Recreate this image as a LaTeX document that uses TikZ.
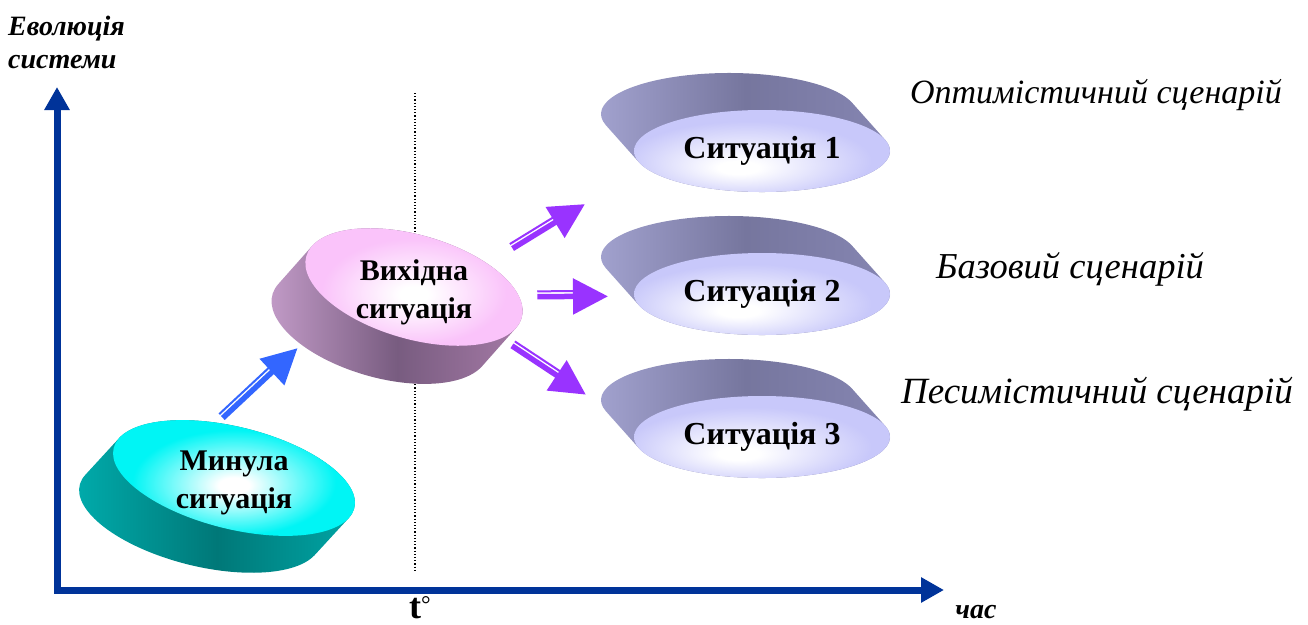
\documentclass[tikz,border=0pt]{standalone}
\usepackage{fontspec}
\setmainfont{Liberation Serif}
\usetikzlibrary{arrows.meta,shapes.geometric,calc}

\definecolor{axisblue}{RGB}{0,51,153}
\definecolor{arrowblue}{RGB}{51,102,255}
\definecolor{arrowpurple}{RGB}{153,51,255}
% minula
\definecolor{minface}{RGB}{0,245,245}
\definecolor{minsideA}{RGB}{0,175,175}
\definecolor{minsideB}{RGB}{0,120,120}
\definecolor{minsideC}{RGB}{0,170,170}
% vyhidna
\definecolor{vyhface}{RGB}{250,195,250}
\definecolor{vyhsideA}{RGB}{200,160,205}
\definecolor{vyhsideB}{RGB}{120,92,128}
\definecolor{vyhsideC}{RGB}{170,125,170}
% situations
\definecolor{sitface}{RGB}{200,200,250}
\definecolor{sitsideA}{RGB}{165,165,210}
\definecolor{sitsideB}{RGB}{118,118,158}
\definecolor{sitsideC}{RGB}{135,135,180}

% white spot on the top faces
\pgfdeclareradialshading[glowcol]{faceglow}{\pgfpoint{0bp}{-3bp}}{color(0bp)=(white);color(3bp)=(white);color(20bp)=(glowcol);color(50bp)=(glowcol)}
\pgfdeclareradialshading[glowcol]{lowglow}{\pgfpoint{-5bp}{-11bp}}{color(0bp)=(white);color(4bp)=(white);color(24bp)=(glowcol);color(50bp)=(glowcol)}

\tikzset{
  % middle colour last, or it is reset
  minside/.style={left color=minsideA, right color=minsideC, middle color=minsideB},
  vyhside/.style={left color=vyhsideA, right color=vyhsideC, middle color=vyhsideB},
  sitside/.style={left color=sitsideA, right color=sitsideC, middle color=sitsideB},
  mintop/.style={shading=faceglow},
  vyhtop/.style={shading=faceglow},
  sittop/.style={shading=lowglow},
  disktext/.style={ellipse, inner sep=0pt},
  mintext/.style={align=center, yshift=-5pt, font=\bfseries\fontsize{30}{38}\selectfont},
  vyhtext/.style={align=center, yshift=-5pt, font=\bfseries\fontsize{30}{38}\selectfont},
  sittext/.style={align=center, font=\bfseries\fontsize{32}{38}\selectfont},
  axis line/.style={draw=axisblue, line width=7pt, line join=miter,
    {Triangle[length=23pt,width=24pt]}-{Triangle[length=23pt,width=24pt]}},
  axis label/.style={inner sep=0pt, font=\bfseries\itshape\fontsize{28}{33}\selectfont},
  scenario/.style={anchor=base, inner sep=0pt},
  fat arrow/.style={draw=#1, line width=5.5pt, -{Triangle[length=35pt,width=35pt]}},
  thin shaft/.style={draw=#1, line width=2pt}
}

% disc: name, centre, tilt, radii, depth offset, colour set, label
\newcommand{\drawdisk}[9]{%
  \pgfmathsetmacro\tmid{atan2((#7)/(#5),(#6)/(#4))}%
  \pgfmathsetmacro\tone{\tmid-90}%
  \pgfmathsetmacro\ttwo{\tmid+90}%
  \colorlet{glowcol}{#8face}%
  \begin{scope}[shift={(#2)}, rotate=#3]
    \shade[#8side] (\tone:#4 and #5) -- ++(#6,#7)
      arc[start angle=\tone, end angle=\ttwo, x radius=#4, y radius=#5]
      -- (\ttwo:#4 and #5)
      arc[start angle=\ttwo, end angle=\tone+360, x radius=#4, y radius=#5] -- cycle;
    \shade[#8top] (0,0) ellipse[x radius=#4, y radius=#5];
  \end{scope}
  \node[disktext, minimum width=2*#4, minimum height=2*#5] (#1) at (#2) {};
  \node[#8text] (#1 text) at (#1.center) {#9};
}

% arrow with a thin line along its shaft: colour, from, to, gaps at both ends
\newcommand{\fatarrow}[5]{%
  \draw[fat arrow=#1, shorten <=#4, shorten >=#5] (#2) -- (#3);
  \draw[thin shaft=#1, shorten <=#4, shorten >=#5+30pt]
    ($(#2)!5.3pt!90:(#3)$) -- ($(#3)!5.3pt!-90:(#2)$);
}

\begin{document}
\begin{tikzpicture}[x=1pt,y=-1pt]
\useasboundingbox (0,0) rectangle (1308,624);

% moment t0
\coordinate (ttop) at (415,93);
\coordinate (tbot) at (415,572);
\draw[dotted, line width=1.2pt] (ttop) -- (tbot);

% Discs
\drawdisk{min}{234,478}{-14}{124}{51}{-24}{44}{min}{Минула\\ситуація}
\drawdisk{vyh}{414,287}{-16}{112}{52}{-22}{46}{vyh}{Вихідна\\ситуація}
\drawdisk{s1}{762,151}{0}{128}{41}{-33}{-37}{sit}{Ситуація 1}
\drawdisk{s2}{762,294}{0}{128}{41}{-33}{-37}{sit}{Ситуація 2}
\drawdisk{s3}{762,437}{0}{128}{41}{-33}{-37}{sit}{Ситуація 3}

% Transitions
\fatarrow{arrowblue}{min.113}{vyh.201}{14pt}{41pt}
\fatarrow{arrowpurple}{vyh.20}{s1.188}{12pt}{70pt}
\fatarrow{arrowpurple}{vyh.355}{s2.181}{13pt}{26pt}
\fatarrow{arrowpurple}{vyh.330}{s3.176}{33pt}{61pt}

% Axes
\coordinate (orig) at (57,590);
\coordinate (ytip) at (57,87);
\coordinate (xtip) at (944,590);
\draw[axis line] (ytip) -- (orig) -- (xtip);

\node[axis label, anchor=north west, align=left] (evo) at (8,16) {Еволюція\\системи};
\node[axis label, anchor=base] (chas) at (976,618) {час};
\node[anchor=base, inner sep=0pt, font=\bfseries\fontsize{36}{36}\selectfont] (tnull) at (420,618) {t{\normalfont\fontsize{24}{24}\selectfont\raisebox{6pt}{°}}};

% Scenarios
\node[scenario, font=\itshape\fontsize{34}{40}\selectfont] (opt) at (1096,103) {Оптимістичний сценарій};
\node[scenario, font=\itshape\fontsize{36.5}{40}\selectfont] (baz) at (1070,278) {Базовий сценарій};
\node[scenario, font=\itshape\fontsize{37}{40}\selectfont] (pes) at (1097,403) {Песимістичний сценарій};

\end{tikzpicture}
\end{document}
